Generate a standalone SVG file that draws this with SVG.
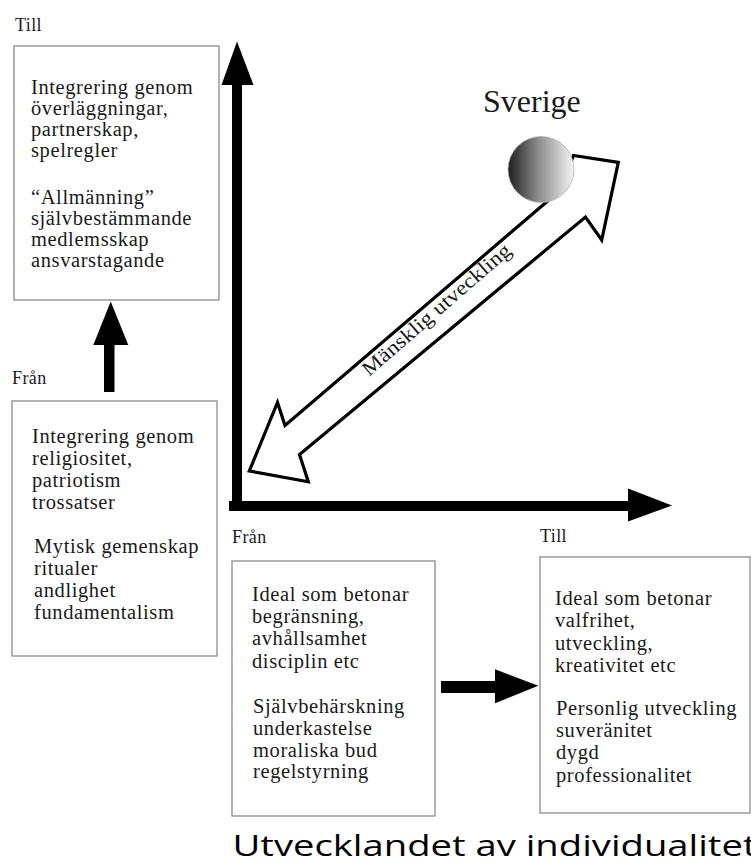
<svg xmlns="http://www.w3.org/2000/svg" width="751" height="865" viewBox="0 0 751 865">
  <style>
    .t { font-family: "Liberation Serif", "DejaVu Serif", "Times New Roman", serif; font-size: 20.5px; fill: #1a1a1a; letter-spacing: 0.6px; }
    .lbl { font-family: "Liberation Serif", "DejaVu Serif", "Times New Roman", serif; font-size: 18px; fill: #1a1a1a; letter-spacing: 0.4px; }
    .big { font-family: "Liberation Serif", "DejaVu Serif", "Times New Roman", serif; font-size: 32px; fill: #1a1a1a; }
    .cap { font-family: "Open Sans", "Noto Sans", "DejaVu Sans", sans-serif; font-size: 29px; fill: #000000; }
    .box { fill: #ffffff; stroke: #8c8c8c; stroke-width: 1.3; }
    .solid { fill: #000000; stroke: none; }
  </style>
  <defs>
    <linearGradient id="sphereGrad" x1="0" y1="0" x2="1" y2="0">
      <stop offset="0" stop-color="#1e1e1e"/>
      <stop offset="0.45" stop-color="#8a8a8a"/>
      <stop offset="0.85" stop-color="#d8d8d8"/>
      <stop offset="1" stop-color="#f4f4f4"/>
    </linearGradient>
  </defs>
  <rect width="751" height="865" fill="#ffffff"/>

  <g id="connectors">
    <g id="axis-vertical">
      <rect class="solid" x="232" y="84" width="10" height="427"/>
      <polygon class="solid" points="237,41.5 253.5,85 221.5,85"/>
    </g>
    <g id="axis-horizontal">
      <rect class="solid" x="229" y="501" width="400" height="10"/>
      <polygon class="solid" points="628,488.5 672,505.5 628,521.5"/>
    </g>
    <g id="arrow-up-left">
      <rect class="solid" x="104" y="343" width="10.5" height="49"/>
      <polygon class="solid" points="110.7,301.5 128.3,345 93.3,345"/>
    </g>
    <g id="arrow-right-bottom">
      <rect class="solid" x="441" y="681" width="55" height="12"/>
      <polygon class="solid" points="495,669.3 538.3,685.7 495,703.3"/>
    </g>
    <g id="double-arrow">
      <polygon points="249.3,471 277.5,402.5 285,425.5 560,190.5 573.5,155.5 618.3,162.3 601.7,240 585.5,217 299.5,454.5 308.3,481.7" fill="#ffffff" stroke="#000000" stroke-width="3.2" stroke-linejoin="miter"/>
      <text class="t" transform="translate(369,377) rotate(-41)" x="0" y="0" textLength="190" lengthAdjust="spacingAndGlyphs" style="letter-spacing:0">Mänsklig utveckling</text>
    </g>
  </g>

  <g id="sverige">
    <circle cx="541" cy="169.5" r="33" fill="url(#sphereGrad)" stroke="#b0b0b0" stroke-width="0.8"/>
    <text class="big" x="483" y="112">Sverige</text>
  </g>

  <g id="node-top-left">
    <text class="lbl" x="15" y="31">Till</text>
    <rect class="box" x="14" y="46" width="205" height="254"/>
    <text class="t" x="31" y="94">Integrering genom</text>
    <text class="t" x="31" y="115">överläggningar,</text>
    <text class="t" x="31" y="136">partnerskap,</text>
    <text class="t" x="31" y="157">spelregler</text>
    <text class="t" x="31" y="204">“Allmänning”</text>
    <text class="t" x="31" y="225">självbestämmande</text>
    <text class="t" x="31" y="246">medlemsskap</text>
    <text class="t" x="31" y="267">ansvarstagande</text>
  </g>

  <g id="node-bottom-left">
    <text class="lbl" x="12" y="384">Från</text>
    <rect class="box" x="12" y="401" width="205" height="255"/>
    <text class="t" x="32" y="443">Integrering genom</text>
    <text class="t" x="32" y="465">religiositet,</text>
    <text class="t" x="32" y="487">patriotism</text>
    <text class="t" x="32" y="509">trossatser</text>
    <text class="t" x="34" y="553">Mytisk gemenskap</text>
    <text class="t" x="34" y="575">ritualer</text>
    <text class="t" x="34" y="597">andlighet</text>
    <text class="t" x="34" y="619">fundamentalism</text>
  </g>

  <g id="node-bottom-middle">
    <text class="lbl" x="232" y="543">Från</text>
    <rect class="box" x="232" y="561" width="203" height="255"/>
    <text class="t" x="252" y="601">Ideal som betonar</text>
    <text class="t" x="252" y="623">begränsning,</text>
    <text class="t" x="252" y="645">avhållsamhet</text>
    <text class="t" x="252" y="668">disciplin etc</text>
    <text class="t" x="253" y="713">Självbehärskning</text>
    <text class="t" x="253" y="735">underkastelse</text>
    <text class="t" x="253" y="757">moraliska bud</text>
    <text class="t" x="253" y="778">regelstyrning</text>
  </g>

  <g id="node-bottom-right">
    <text class="lbl" x="540" y="542">Till</text>
    <rect class="box" x="540" y="557" width="210" height="256"/>
    <text class="t" x="555" y="605">Ideal som betonar</text>
    <text class="t" x="555" y="627">valfrihet,</text>
    <text class="t" x="555" y="650">utveckling,</text>
    <text class="t" x="555" y="672">kreativitet etc</text>
    <text class="t" x="556" y="715">Personlig utveckling</text>
    <text class="t" x="556" y="737">suveränitet</text>
    <text class="t" x="556" y="759">dygd</text>
    <text class="t" x="556" y="782">professionalitet</text>
  </g>

  <g id="caption">
    <text class="cap" x="232.5" y="856" textLength="524" lengthAdjust="spacingAndGlyphs">Utvecklandet av individualitet</text>
  </g>
</svg>
